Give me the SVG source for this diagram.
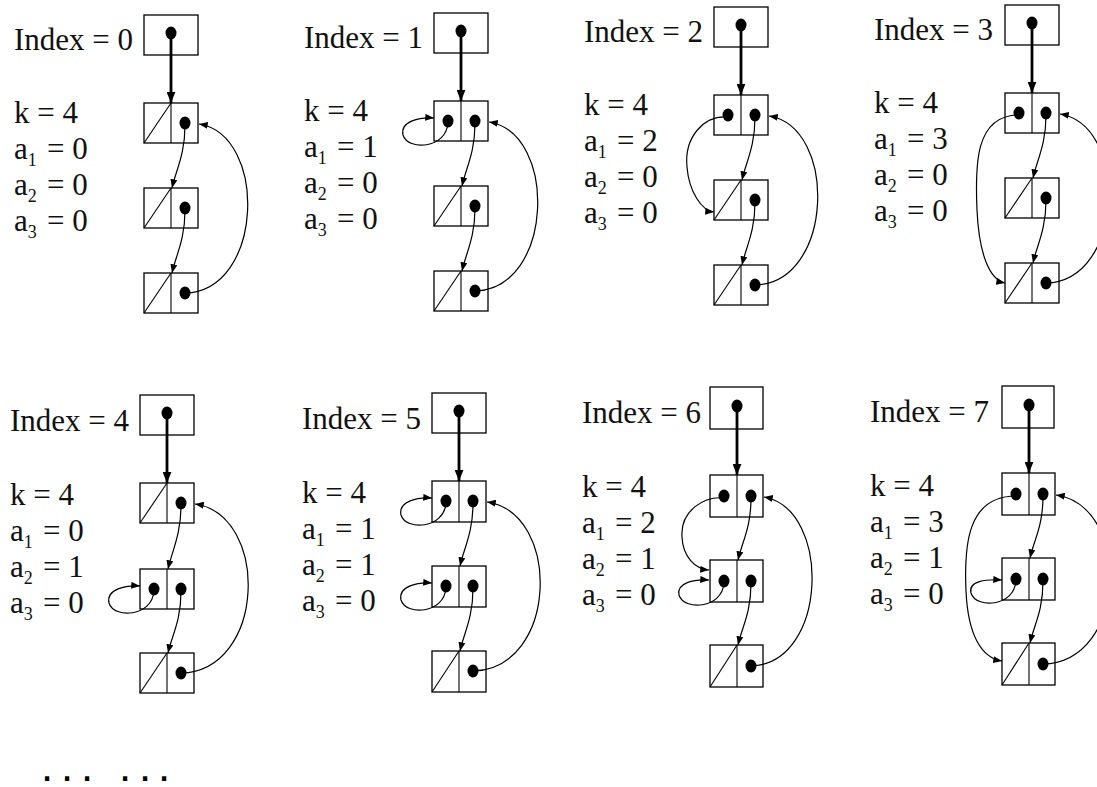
<svg xmlns="http://www.w3.org/2000/svg" width="1097" height="787" viewBox="0 0 1097 787">
<style>
.box{fill:none;stroke:#000;stroke-width:1.3}
.ln{stroke:#000;stroke-width:1.1;fill:none}
.dot{fill:#000}
.lnk{fill:none;stroke:#000;stroke-width:1.2;marker-end:url(#ah)}
.hd{fill:none;stroke:#000;stroke-width:2.8;marker-end:url(#ahb)}
.lbl{font-family:"Liberation Serif","Times New Roman",serif;font-size:31px;fill:#111}
.sub{font-size:18px}
.dots{font-family:"DejaVu Sans",sans-serif;font-weight:bold;font-size:24px;fill:#000}
</style>
<defs>
<marker id="ah" viewBox="0 0 10 8" refX="10" refY="4" markerWidth="9" markerHeight="7" orient="auto" markerUnits="userSpaceOnUse"><path d="M0,0 L10,4 L0,8 z" fill="#000"/></marker>
<marker id="ahb" viewBox="0 0 10 8" refX="10" refY="4" markerWidth="11" markerHeight="9" orient="auto" markerUnits="userSpaceOnUse"><path d="M0,0 L10,4 L0,8 z" fill="#000"/></marker>
</defs>
<rect width="1097" height="787" fill="#fff"/>

<!-- Panel 0 -->
<g id="panel0" transform="translate(144,15)">
<text class="lbl" x="-130" y="35">Index = 0</text>
<text class="lbl" x="-130" y="108">k = 4</text>
<text class="lbl" x="-130" y="144">a<tspan class="sub" dy="7">1</tspan><tspan x="-97" dy="-7">= 0</tspan></text>
<text class="lbl" x="-130" y="180">a<tspan class="sub" dy="7">2</tspan><tspan x="-97" dy="-7">= 0</tspan></text>
<text class="lbl" x="-130" y="216">a<tspan class="sub" dy="7">3</tspan><tspan x="-97" dy="-7">= 0</tspan></text>
<g id="p0-head"><rect class="box" x="0" y="0" width="54" height="40"/><ellipse class="dot" cx="27" cy="18" rx="5.5" ry="6.5"/></g>
<g id="p0-n1"><rect class="box" x="0" y="88" width="54" height="40"/><line class="ln" x1="27" y1="88" x2="27" y2="128"/><line class="ln" x1="0" y1="128" x2="27" y2="88"/><ellipse class="dot" cx="41" cy="108" rx="5.5" ry="6.5"/></g>
<g id="p0-n2"><rect class="box" x="0" y="173" width="54" height="40"/><line class="ln" x1="27" y1="173" x2="27" y2="213"/><line class="ln" x1="0" y1="213" x2="27" y2="173"/><ellipse class="dot" cx="41" cy="193" rx="5.5" ry="6.5"/></g>
<g id="p0-n3"><rect class="box" x="0" y="258" width="54" height="40"/><line class="ln" x1="27" y1="258" x2="27" y2="298"/><line class="ln" x1="0" y1="298" x2="27" y2="258"/><ellipse class="dot" cx="41" cy="278" rx="5.5" ry="6.5"/></g>
</g>

<!-- Panel 1 -->
<g id="panel1" transform="translate(434,13)">
<text class="lbl" x="-130" y="35">Index = 1</text>
<text class="lbl" x="-130" y="108">k = 4</text>
<text class="lbl" x="-130" y="144">a<tspan class="sub" dy="7">1</tspan><tspan x="-97" dy="-7">= 1</tspan></text>
<text class="lbl" x="-130" y="180">a<tspan class="sub" dy="7">2</tspan><tspan x="-97" dy="-7">= 0</tspan></text>
<text class="lbl" x="-130" y="216">a<tspan class="sub" dy="7">3</tspan><tspan x="-97" dy="-7">= 0</tspan></text>
<g id="p1-head"><rect class="box" x="0" y="0" width="54" height="40"/><ellipse class="dot" cx="27" cy="18" rx="5.5" ry="6.5"/></g>
<g id="p1-n1"><rect class="box" x="0" y="88" width="54" height="40"/><line class="ln" x1="27" y1="88" x2="27" y2="128"/><ellipse class="dot" cx="14" cy="108" rx="5.5" ry="6.5"/><ellipse class="dot" cx="41" cy="108" rx="5.5" ry="6.5"/></g>
<g id="p1-n2"><rect class="box" x="0" y="173" width="54" height="40"/><line class="ln" x1="27" y1="173" x2="27" y2="213"/><line class="ln" x1="0" y1="213" x2="27" y2="173"/><ellipse class="dot" cx="41" cy="193" rx="5.5" ry="6.5"/></g>
<g id="p1-n3"><rect class="box" x="0" y="258" width="54" height="40"/><line class="ln" x1="27" y1="258" x2="27" y2="298"/><line class="ln" x1="0" y1="298" x2="27" y2="258"/><ellipse class="dot" cx="41" cy="278" rx="5.5" ry="6.5"/></g>
</g>

<!-- Panel 2 -->
<g id="panel2" transform="translate(714,7)">
<text class="lbl" x="-130" y="35">Index = 2</text>
<text class="lbl" x="-130" y="108">k = 4</text>
<text class="lbl" x="-130" y="144">a<tspan class="sub" dy="7">1</tspan><tspan x="-97" dy="-7">= 2</tspan></text>
<text class="lbl" x="-130" y="180">a<tspan class="sub" dy="7">2</tspan><tspan x="-97" dy="-7">= 0</tspan></text>
<text class="lbl" x="-130" y="216">a<tspan class="sub" dy="7">3</tspan><tspan x="-97" dy="-7">= 0</tspan></text>
<g id="p2-head"><rect class="box" x="0" y="0" width="54" height="40"/><ellipse class="dot" cx="27" cy="18" rx="5.5" ry="6.5"/></g>
<g id="p2-n1"><rect class="box" x="0" y="88" width="54" height="40"/><line class="ln" x1="27" y1="88" x2="27" y2="128"/><ellipse class="dot" cx="14" cy="108" rx="5.5" ry="6.5"/><ellipse class="dot" cx="41" cy="108" rx="5.5" ry="6.5"/></g>
<g id="p2-n2"><rect class="box" x="0" y="173" width="54" height="40"/><line class="ln" x1="27" y1="173" x2="27" y2="213"/><line class="ln" x1="0" y1="213" x2="27" y2="173"/><ellipse class="dot" cx="41" cy="193" rx="5.5" ry="6.5"/></g>
<g id="p2-n3"><rect class="box" x="0" y="258" width="54" height="40"/><line class="ln" x1="27" y1="258" x2="27" y2="298"/><line class="ln" x1="0" y1="298" x2="27" y2="258"/><ellipse class="dot" cx="41" cy="278" rx="5.5" ry="6.5"/></g>
</g>

<!-- Panel 3 -->
<g id="panel3" transform="translate(1005,5)">
<text class="lbl" x="-131" y="35">Index = 3</text>
<text class="lbl" x="-131" y="108">k = 4</text>
<text class="lbl" x="-131" y="144">a<tspan class="sub" dy="7">1</tspan><tspan x="-98" dy="-7">= 3</tspan></text>
<text class="lbl" x="-131" y="180">a<tspan class="sub" dy="7">2</tspan><tspan x="-98" dy="-7">= 0</tspan></text>
<text class="lbl" x="-131" y="216">a<tspan class="sub" dy="7">3</tspan><tspan x="-98" dy="-7">= 0</tspan></text>
<g id="p3-head"><rect class="box" x="0" y="0" width="54" height="40"/><ellipse class="dot" cx="27" cy="18" rx="5.5" ry="6.5"/></g>
<g id="p3-n1"><rect class="box" x="0" y="88" width="54" height="40"/><line class="ln" x1="27" y1="88" x2="27" y2="128"/><ellipse class="dot" cx="14" cy="108" rx="5.5" ry="6.5"/><ellipse class="dot" cx="41" cy="108" rx="5.5" ry="6.5"/></g>
<g id="p3-n2"><rect class="box" x="0" y="173" width="54" height="40"/><line class="ln" x1="27" y1="173" x2="27" y2="213"/><line class="ln" x1="0" y1="213" x2="27" y2="173"/><ellipse class="dot" cx="41" cy="193" rx="5.5" ry="6.5"/></g>
<g id="p3-n3"><rect class="box" x="0" y="258" width="54" height="40"/><line class="ln" x1="27" y1="258" x2="27" y2="298"/><line class="ln" x1="0" y1="298" x2="27" y2="258"/><ellipse class="dot" cx="41" cy="278" rx="5.5" ry="6.5"/></g>
</g>

<!-- Panel 4 -->
<g id="panel4" transform="translate(140,395)">
<text class="lbl" x="-130" y="36">Index = 4</text>
<text class="lbl" x="-130" y="110">k = 4</text>
<text class="lbl" x="-130" y="146">a<tspan class="sub" dy="7">1</tspan><tspan x="-97" dy="-7">= 0</tspan></text>
<text class="lbl" x="-130" y="182">a<tspan class="sub" dy="7">2</tspan><tspan x="-97" dy="-7">= 1</tspan></text>
<text class="lbl" x="-130" y="218">a<tspan class="sub" dy="7">3</tspan><tspan x="-97" dy="-7">= 0</tspan></text>
<g id="p4-head"><rect class="box" x="0" y="0" width="54" height="40"/><ellipse class="dot" cx="27" cy="18" rx="5.5" ry="6.5"/></g>
<g id="p4-n1"><rect class="box" x="0" y="88" width="54" height="40"/><line class="ln" x1="27" y1="88" x2="27" y2="128"/><line class="ln" x1="0" y1="128" x2="27" y2="88"/><ellipse class="dot" cx="41" cy="108" rx="5.5" ry="6.5"/></g>
<g id="p4-n2"><rect class="box" x="0" y="174" width="54" height="40"/><line class="ln" x1="27" y1="174" x2="27" y2="214"/><ellipse class="dot" cx="14" cy="194" rx="5.5" ry="6.5"/><ellipse class="dot" cx="41" cy="194" rx="5.5" ry="6.5"/></g>
<g id="p4-n3"><rect class="box" x="0" y="258" width="54" height="40"/><line class="ln" x1="27" y1="258" x2="27" y2="298"/><line class="ln" x1="0" y1="298" x2="27" y2="258"/><ellipse class="dot" cx="41" cy="278" rx="5.5" ry="6.5"/></g>
</g>

<!-- Panel 5 -->
<g id="panel5" transform="translate(432,393)">
<text class="lbl" x="-130" y="36">Index = 5</text>
<text class="lbl" x="-130" y="110">k = 4</text>
<text class="lbl" x="-130" y="146">a<tspan class="sub" dy="7">1</tspan><tspan x="-97" dy="-7">= 1</tspan></text>
<text class="lbl" x="-130" y="182">a<tspan class="sub" dy="7">2</tspan><tspan x="-97" dy="-7">= 1</tspan></text>
<text class="lbl" x="-130" y="218">a<tspan class="sub" dy="7">3</tspan><tspan x="-97" dy="-7">= 0</tspan></text>
<g id="p5-head"><rect class="box" x="0" y="0" width="54" height="40"/><ellipse class="dot" cx="27" cy="18" rx="5.5" ry="6.5"/></g>
<g id="p5-n1"><rect class="box" x="0" y="88" width="54" height="41"/><line class="ln" x1="27" y1="88" x2="27" y2="129"/><ellipse class="dot" cx="14" cy="108" rx="5.5" ry="6.5"/><ellipse class="dot" cx="41" cy="108" rx="5.5" ry="6.5"/></g>
<g id="p5-n2"><rect class="box" x="0" y="173" width="54" height="41"/><line class="ln" x1="27" y1="173" x2="27" y2="214"/><ellipse class="dot" cx="14" cy="193" rx="5.5" ry="6.5"/><ellipse class="dot" cx="41" cy="193" rx="5.5" ry="6.5"/></g>
<g id="p5-n3"><rect class="box" x="0" y="258" width="54" height="41"/><line class="ln" x1="27" y1="258" x2="27" y2="299"/><line class="ln" x1="0" y1="299" x2="27" y2="258"/><ellipse class="dot" cx="41" cy="278" rx="5.5" ry="6.5"/></g>
</g>

<!-- Panel 6 -->
<g id="panel6" transform="translate(710,387)">
<text class="lbl" x="-128" y="36">Index = 6</text>
<text class="lbl" x="-128" y="110">k = 4</text>
<text class="lbl" x="-128" y="146">a<tspan class="sub" dy="7">1</tspan><tspan x="-95" dy="-7">= 2</tspan></text>
<text class="lbl" x="-128" y="182">a<tspan class="sub" dy="7">2</tspan><tspan x="-95" dy="-7">= 1</tspan></text>
<text class="lbl" x="-128" y="218">a<tspan class="sub" dy="7">3</tspan><tspan x="-95" dy="-7">= 0</tspan></text>
<g id="p6-head"><rect class="box" x="0" y="0" width="53" height="42"/><ellipse class="dot" cx="27" cy="19" rx="5.5" ry="6.5"/></g>
<g id="p6-n1"><rect class="box" x="0" y="88" width="53" height="42"/><line class="ln" x1="27" y1="88" x2="27" y2="130"/><ellipse class="dot" cx="14" cy="109" rx="5.5" ry="6.5"/><ellipse class="dot" cx="41" cy="109" rx="5.5" ry="6.5"/></g>
<g id="p6-n2"><rect class="box" x="0" y="173" width="53" height="42"/><line class="ln" x1="27" y1="173" x2="27" y2="215"/><ellipse class="dot" cx="14" cy="194" rx="5.5" ry="6.5"/><ellipse class="dot" cx="41" cy="194" rx="5.5" ry="6.5"/></g>
<g id="p6-n3"><rect class="box" x="0" y="258" width="53" height="42"/><line class="ln" x1="27" y1="258" x2="27" y2="300"/><line class="ln" x1="0" y1="300" x2="27" y2="258"/><ellipse class="dot" cx="41" cy="279" rx="5.5" ry="6.5"/></g>
</g>

<!-- Panel 7 -->
<g id="panel7" transform="translate(1002,386)">
<text class="lbl" x="-132" y="36">Index = 7</text>
<text class="lbl" x="-132" y="110">k = 4</text>
<text class="lbl" x="-132" y="146">a<tspan class="sub" dy="7">1</tspan><tspan x="-99" dy="-7">= 3</tspan></text>
<text class="lbl" x="-132" y="182">a<tspan class="sub" dy="7">2</tspan><tspan x="-99" dy="-7">= 1</tspan></text>
<text class="lbl" x="-132" y="218">a<tspan class="sub" dy="7">3</tspan><tspan x="-99" dy="-7">= 0</tspan></text>
<g id="p7-head"><rect class="box" x="0" y="0" width="52" height="42"/><ellipse class="dot" cx="27" cy="19" rx="5.5" ry="6.5"/></g>
<g id="p7-n1"><rect class="box" x="0" y="87" width="53" height="42"/><line class="ln" x1="27" y1="87" x2="27" y2="129"/><ellipse class="dot" cx="14" cy="108" rx="5.5" ry="6.5"/><ellipse class="dot" cx="41" cy="108" rx="5.5" ry="6.5"/></g>
<g id="p7-n2"><rect class="box" x="0" y="172" width="53" height="42"/><line class="ln" x1="27" y1="172" x2="27" y2="214"/><ellipse class="dot" cx="14" cy="193" rx="5.5" ry="6.5"/><ellipse class="dot" cx="41" cy="193" rx="5.5" ry="6.5"/></g>
<g id="p7-n3"><rect class="box" x="0" y="257" width="53" height="42"/><line class="ln" x1="27" y1="257" x2="27" y2="299"/><line class="ln" x1="0" y1="299" x2="27" y2="257"/><ellipse class="dot" cx="41" cy="278" rx="5.5" ry="6.5"/></g>
</g>

<g id="connectors">
<g transform="translate(144,15)">
<path class="hd" d="M27,18 L27,88"/>
<path class="lnk" d="M41,110 C41,140 32,155 28,173"/>
<path class="lnk" d="M41,195 C41,225 32,240 28,258"/>
<path class="lnk" d="M41,278 C120,276 124,120 55,109"/>
</g>
<g transform="translate(434,13)">
<path class="hd" d="M27,18 L27,88"/>
<path class="lnk" d="M14,110 C12,136 -26,138 -31,122 C-34,108 -14,104 0,105"/>
<path class="lnk" d="M41,110 C41,140 32,155 28,173"/>
<path class="lnk" d="M41,195 C41,225 32,240 28,258"/>
<path class="lnk" d="M41,278 C120,276 124,120 55,109"/>
</g>
<g transform="translate(714,7)">
<path class="hd" d="M27,18 L27,88"/>
<path class="lnk" d="M14,110 C-10,108 -30,130 -27,160 C-25,185 -12,204 0,205"/>
<path class="lnk" d="M41,110 C41,140 32,155 28,173"/>
<path class="lnk" d="M41,195 C41,225 32,240 28,258"/>
<path class="lnk" d="M41,278 C120,276 124,120 55,109"/>
</g>
<g transform="translate(1005,5)">
<path class="hd" d="M27,18 L27,88"/>
<path class="lnk" d="M14,110 C-30,110 -30,160 -28,205 C-26,250 -15,275 0,278"/>
<path class="lnk" d="M41,110 C41,140 32,155 28,173"/>
<path class="lnk" d="M41,195 C41,225 32,240 28,258"/>
<path class="lnk" d="M41,278 C120,276 124,120 55,109"/>
</g>
<g transform="translate(140,395)">
<path class="hd" d="M27,18 L27,88"/>
<path class="lnk" d="M41,110 C41,140 32,156 28,174"/>
<path class="lnk" d="M14,196 C12,222 -26,224 -31,208 C-34,194 -14,190 0,191"/>
<path class="lnk" d="M41,196 C41,226 32,240 28,258"/>
<path class="lnk" d="M41,278 C126,276 130,120 55,109"/>
</g>
<g transform="translate(432,393)">
<path class="hd" d="M27,18 L27,88"/>
<path class="lnk" d="M14,110 C12,136 -26,138 -31,122 C-34,108 -14,104 0,105"/>
<path class="lnk" d="M41,110 C41,140 32,155 28,173"/>
<path class="lnk" d="M14,195 C12,221 -26,223 -31,207 C-34,193 -14,189 0,190"/>
<path class="lnk" d="M41,195 C41,225 32,240 28,258"/>
<path class="lnk" d="M41,278 C126,276 130,120 55,109"/>
</g>
<g transform="translate(710,387)">
<path class="hd" d="M27,19 L27,88"/>
<path class="lnk" d="M14,111 C-5,109 -30,123 -28,150 C-27,170 -15,182 -1,183"/>
<path class="lnk" d="M41,111 C41,141 32,155 28,173"/>
<path class="lnk" d="M14,196 C12,222 -26,224 -31,208 C-34,196 -16,192 -1,193"/>
<path class="lnk" d="M41,196 C41,226 32,240 28,258"/>
<path class="lnk" d="M41,279 C118,277 122,122 54,110"/>
</g>
<g transform="translate(1002,386)">
<path class="hd" d="M27,19 L27,87"/>
<path class="lnk" d="M14,110 C-35,110 -38,160 -36,205 C-34,250 -20,272 0,275"/>
<path class="lnk" d="M41,110 C41,140 32,154 28,172"/>
<path class="lnk" d="M14,195 C12,221 -26,223 -31,207 C-34,195 -16,193 0,194"/>
<path class="lnk" d="M41,195 C41,225 32,239 28,257"/>
<path class="lnk" d="M41,278 C126,276 130,120 54,109"/>
</g>
</g>

<text class="dots" x="42.4 62.4 82.4 101 120.4 140.4 159.4" y="781">... ...</text>
</svg>
